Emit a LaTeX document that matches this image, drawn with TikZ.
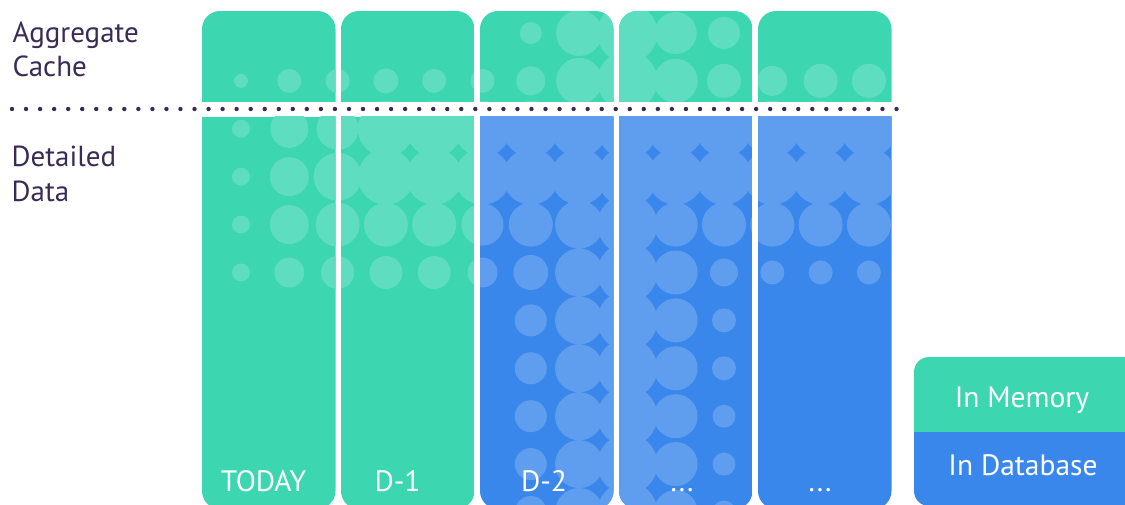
\documentclass[tikz,border=0pt]{standalone}
\usepackage{fontspec}
\setmainfont{PT Sans}
\definecolor{mgreen}{HTML}{3CD6B1}
\definecolor{lgreen}{HTML}{5FDDC1}
\definecolor{mblue}{HTML}{3A87EB}
\definecolor{lblue}{HTML}{5F9DEF}
\definecolor{darktxt}{HTML}{3A2B55}
\tikzset{
  sidelbl/.style={anchor=base west, inner sep=0pt, text=darktxt, font=\fontsize{29}{34}\selectfont},
  collbl/.style={anchor=base, inner sep=0pt, text=white, font=\fontsize{29.5}{34}\selectfont},
  dotmark/.style={fill=darktxt},
}
\def\circlist{0/1/7,0/2/9,0/3/9,0/4/9,0/5/9,
1/1/12,1/2/19,1/3/19.5,1/4/19.5,1/5/15,
2/1/12,2/2/21,2/3/24,2/4/22,2/5/16.5,
3/1/12.5,3/2/28,3/3/28,3/4/22,3/5/16.5,
4/1/12,4/2/28,4/3/28,4/4/22,4/5/16.5,
5/1/12,5/2/28,5/3/28,5/4/21,5/5/15,
6/0/11,6/1/14.5,6/2/28,6/3/28,6/4/22,6/5/17.5,6/6/16,6/7/16,6/8/16,6/9/16,6/10/16,
7/0/23,7/1/23,7/2/28,7/3/28,7/4/24,7/5/24,7/6/24,7/7/24,7/8/24,7/9/24,7/10/24,
8/0/30,8/1/30,8/2/30,8/3/30,8/4/30,8/5/30,8/6/30,8/7/30,8/8/30,8/9/30,8/10/30,
9/0/21,9/1/22,9/2/28,9/3/28,9/4/22,9/5/22,9/6/22,9/7/22,9/8/22,9/9/22,9/10/22,
10/0/16,10/1/17,10/2/28,10/3/28,10/4/22,10/5/14,10/6/12,10/7/12,10/8/11.5,10/9/11.5,10/10/11.5,
11/1/15,11/2/28,11/3/28,11/4/22,11/5/12,
12/1/17,12/2/28,12/3/28,12/4/22,12/5/12,
13/1/17,13/2/28,13/3/28,13/4/22,13/5/12}
\newcommand\colblock[3]{%
  \begin{scope}
    \clip[rounded corners=18pt] (#1,11) rectangle ({#1+133.5},509);
    \fill[mgreen] (#1,11) rectangle ({#1+133.5},102);
    \fill[#2] (#1,117) rectangle ({#1+133.5},509);
    \begin{scope}
      \clip (#1,11) rectangle ({#1+133.5},102);
      \fill[lgreen] \foreach \i/\j/\r in \circlist {(241+48.3*\i,33+47.9*\j) circle[radius=\r pt]};
    \end{scope}
    \begin{scope}
      \clip (#1,117) rectangle ({#1+133.5},509);
      \fill[#3] \foreach \i/\j/\r in \circlist {(241+48.3*\i,33+47.9*\j) circle[radius=\r pt]};
    \end{scope}
  \end{scope}}
\begin{document}
\begin{tikzpicture}[x=1pt,y=-1pt]
\useasboundingbox (0,0) rectangle (1125,505);
% columns
\colblock{202}{mgreen}{lgreen}
\colblock{341}{mgreen}{lgreen}
\colblock{480}{mblue}{lblue}
\colblock{619}{mblue}{lblue}
\colblock{758}{mblue}{lblue}
% dotted separator
\foreach \k in {0,...,63} \fill[dotmark] (12+14.04*\k,109) circle[radius=2.2pt];
% side labels
\node[sidelbl] (agg1) at (12.5,43) {Aggregate};
\node[sidelbl] (agg2) at (12.5,77) {Cache};
\node[sidelbl] (det1) at (11.5,167) {Detailed};
\node[sidelbl] (det2) at (11.5,202) {Data};
% column labels
\node[collbl] (today) at (263.5,491) {TODAY};
\node[collbl] (dm1) at (397.5,491) {D-1};
\node[collbl] (dm2) at (544,491) {D-2};
\node[collbl] (dots1) at (682,491) {...};
\node[collbl] (dots2) at (820,491) {...};
% legend
\begin{scope}
  \clip[rounded corners=15pt] (914,357) rectangle (1170,506);
  \fill[mgreen] (914,357) rectangle (1170,432);
  \fill[mblue] (914,432) rectangle (1170,506);
\end{scope}
\node[collbl] (inmem) at (1022,407) {In Memory};
\node[collbl] (indb) at (1023,475) {In Database};
\end{tikzpicture}
\end{document}
